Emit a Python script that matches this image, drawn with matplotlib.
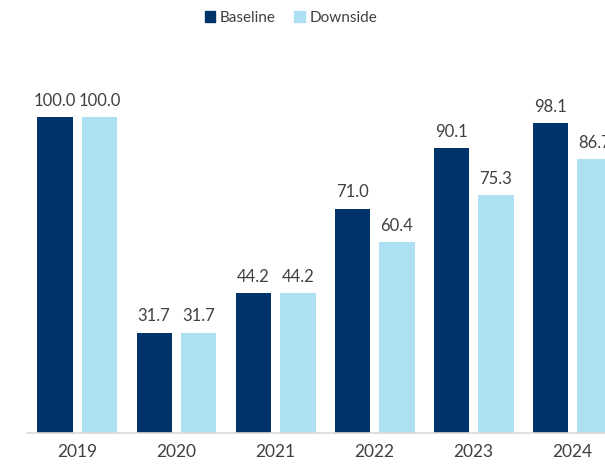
import matplotlib
matplotlib.use("Agg")
import matplotlib.pyplot as plt
from matplotlib.patches import Patch
import numpy as np

years = ["2019", "2020", "2021", "2022", "2023", "2024"]
baseline = [100.0, 31.7, 44.2, 71.0, 90.1, 98.1]
downside = [100.0, 31.7, 44.2, 60.4, 75.3, 86.7]

c_base = "#00336A"
c_down = "#AEE0F3"
txt = "#404040"

plt.rcParams['font.family'] = ['Lato', 'DejaVu Sans']

W, H = 605, 467
fig = plt.figure(figsize=(W / 100, H / 100), dpi=100)
ax_bottom_px = 433
ax_top_px = 50
ax_left_px = 27
ax = fig.add_axes([ax_left_px / W, (H - ax_bottom_px) / H, (W - ax_left_px) / W,
                   (ax_bottom_px - ax_top_px) / H])

x = np.arange(len(years))
w = 0.354
off = 0.227
b1 = ax.bar(x - off, baseline, w, color=c_base)
b2 = ax.bar(x + off, downside, w, color=c_down)

for bars, vals in ((b1, baseline), (b2, downside)):
    for r, v in zip(bars, vals):
        ax.annotate(f"{v:.1f}", (r.get_x() + r.get_width() / 2, v),
                    xytext=(0, 6), textcoords="offset points",
                    ha="center", va="bottom", fontsize=12, color=txt)

ax.set_xlim(-0.510, 5.328)
ax.set_ylim(0, (ax_bottom_px - ax_top_px) / 3.16)
ax.set_xticks(x)
ax.set_xticklabels(years, fontsize=12.5, color=txt)
ax.tick_params(axis='x', length=0, pad=8)
ax.set_yticks([])
for s in ("top", "right", "left"):
    ax.spines[s].set_visible(False)
ax.spines["bottom"].set_color("#D9D9D9")
ax.spines["bottom"].set_linewidth(1.2)

handles = [Patch(color=c_base, label="Baseline"), Patch(color=c_down, label="Downside")]
fig.legend(handles=handles, loc="center", bbox_to_anchor=(291 / W, 1 - 18 / H),
           ncol=2, frameon=False, fontsize=11, handlelength=0.7, handleheight=0.7,
           handletextpad=0.3, columnspacing=1.2, labelcolor=txt)

fig.savefig("out.png", dpi=100)
